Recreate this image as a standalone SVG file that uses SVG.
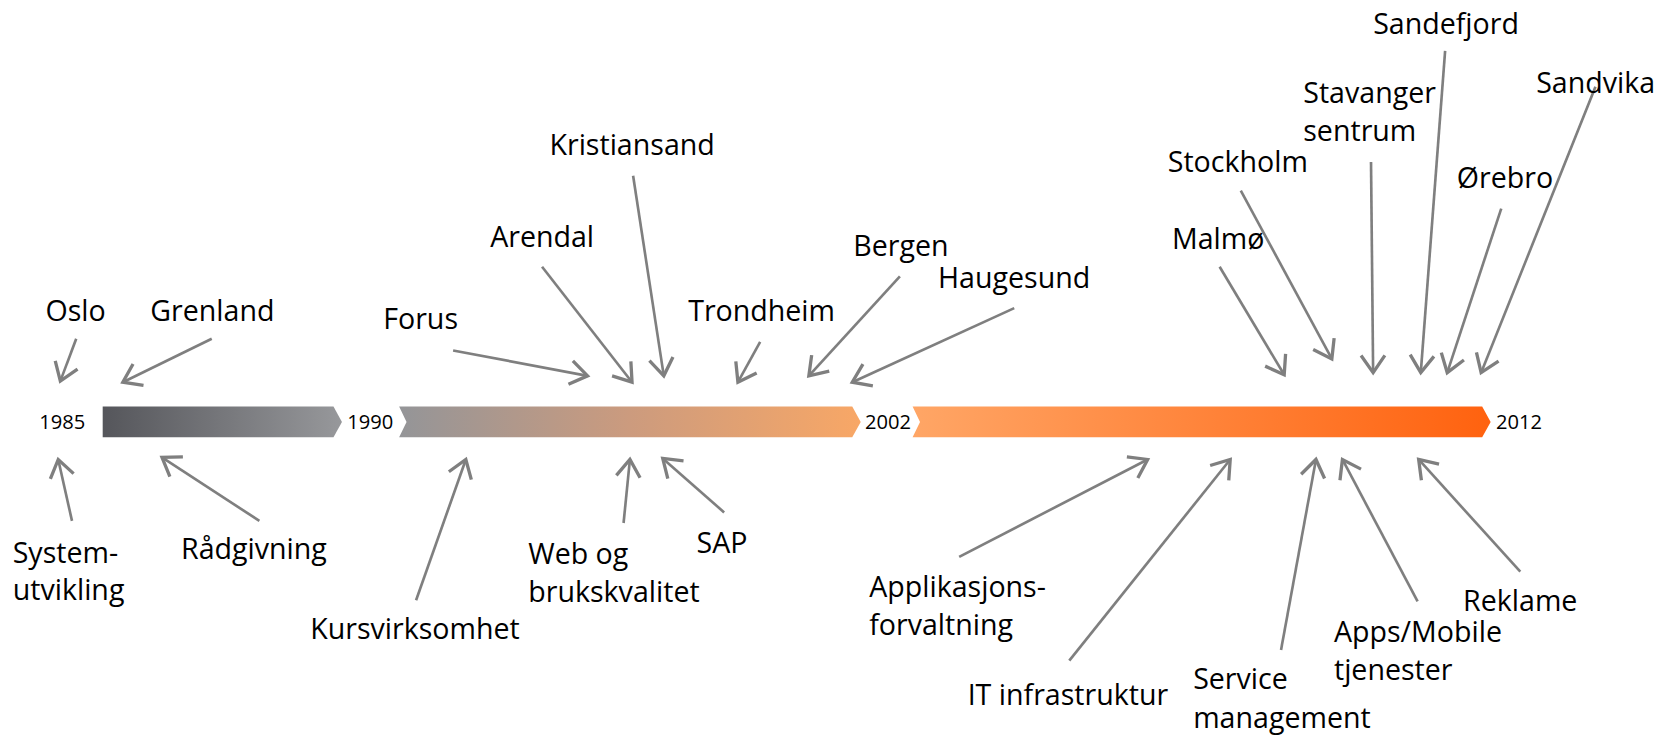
<svg xmlns="http://www.w3.org/2000/svg" width="1660" height="735" viewBox="0 0 1660 735">
<style>
.lbl{font-family:"Open Sans","Noto Sans",sans-serif;font-size:27px;fill:#000}
.yr{font-family:"Open Sans","Noto Sans",sans-serif;font-size:19px;fill:#000}
.con line{stroke:#7f7f7f;stroke-width:2.5;marker-end:url(#ah)}
</style>
<defs>
<marker id="ah" markerUnits="userSpaceOnUse" markerWidth="30" markerHeight="30" refX="0" refY="0" viewBox="-16 -12 20 24" orient="auto" overflow="visible">
<path d="M-13,-9 L0,0 L-13,9" fill="none" stroke="#7f7f7f" stroke-width="2.5"/>
</marker>
<linearGradient id="g1" x1="0" x2="1" y1="0" y2="0"><stop offset="0" stop-color="#55565b"/><stop offset="1" stop-color="#97989b"/></linearGradient>
<linearGradient id="g2" x1="0" x2="1" y1="0" y2="0"><stop offset="0" stop-color="#949598"/><stop offset="0.5" stop-color="#cc9b7e"/><stop offset="1" stop-color="#f8a766"/></linearGradient>
<linearGradient id="g3" x1="0" x2="1" y1="0" y2="0"><stop offset="0" stop-color="#ffa666"/><stop offset="1" stop-color="#ff620f"/></linearGradient>
</defs>
<g transform="scale(1.0587)">
<g id="timeline">
<path d="M97,384 L315,384 L323,398.5 L315,413 L97,413 Z" fill="url(#g1)"/>
<path d="M377,384 L805,384 L813,398.5 L805,413 L377,413 L384,398.5 Z" fill="url(#g2)"/>
<path d="M862,384 L1400,384 L1408,398.5 L1400,413 L862,413 L869,398.5 Z" fill="url(#g3)"/>
<text class="yr" x="37" y="405">1985</text>
<text class="yr" x="328" y="405">1990</text>
<text class="yr" x="817" y="405">2002</text>
<text class="yr" x="1413" y="405">2012</text>
</g>
<g id="connectors" class="con">
<line x1="72" y1="320" x2="57" y2="360"/>
<line x1="200" y1="320" x2="116" y2="361"/>
<line x1="428" y1="331" x2="555" y2="355"/>
<line x1="512" y1="252" x2="597" y2="361"/>
<line x1="598" y1="166" x2="627" y2="355"/>
<line x1="718" y1="323" x2="697" y2="361"/>
<line x1="850" y1="261" x2="764" y2="355"/>
<line x1="958" y1="291" x2="805" y2="361"/>
<line x1="1152" y1="252" x2="1213" y2="354"/>
<line x1="1172" y1="180" x2="1258" y2="339"/>
<line x1="1295" y1="153" x2="1297" y2="352"/>
<line x1="1365" y1="48" x2="1342" y2="352"/>
<line x1="1418" y1="197" x2="1367" y2="352"/>
<line x1="1507" y1="82" x2="1399" y2="352"/>
<line x1="68" y1="492" x2="55" y2="434"/>
<line x1="245" y1="492" x2="153" y2="432"/>
<line x1="393" y1="567" x2="440" y2="434"/>
<line x1="589" y1="494" x2="595" y2="434"/>
<line x1="684" y1="484" x2="626" y2="433"/>
<line x1="906" y1="526" x2="1084" y2="434"/>
<line x1="1010" y1="624" x2="1162" y2="434"/>
<line x1="1210" y1="614" x2="1243" y2="434"/>
<line x1="1339" y1="568" x2="1268" y2="434"/>
<line x1="1436" y1="540" x2="1340" y2="434"/>
</g>
<g id="n-oslo"><text class="lbl" x="43" y="303">Oslo</text></g>
<g id="n-grenland"><text class="lbl" x="142" y="303">Grenland</text></g>
<g id="n-forus"><text class="lbl" x="362" y="311">Forus</text></g>
<g id="n-arendal"><text class="lbl" x="463" y="233">Arendal</text></g>
<g id="n-kristiansand"><text class="lbl" x="519" y="146">Kristiansand</text></g>
<g id="n-trondheim"><text class="lbl" x="650" y="303">Trondheim</text></g>
<g id="n-bergen"><text class="lbl" x="806" y="242">Bergen</text></g>
<g id="n-haugesund"><text class="lbl" x="886" y="272">Haugesund</text></g>
<g id="n-malmo"><text class="lbl" x="1107" y="235">Malmø</text></g>
<g id="n-stockholm"><text class="lbl" x="1103" y="162">Stockholm</text></g>
<g id="n-stavanger"><text class="lbl" x="1231" y="97">Stavanger</text><text class="lbl" x="1231" y="133">sentrum</text></g>
<g id="n-sandefjord"><text class="lbl" x="1297" y="32">Sandefjord</text></g>
<g id="n-orebro"><text class="lbl" x="1376" y="178">Ørebro</text></g>
<g id="n-sandvika"><text class="lbl" x="1451" y="88">Sandvika</text></g>
<g id="n-system"><text class="lbl" x="12" y="532">System-</text><text class="lbl" x="12" y="567">utvikling</text></g>
<g id="n-radgivning"><text class="lbl" x="171" y="528">Rådgivning</text></g>
<g id="n-kurs"><text class="lbl" x="293" y="604">Kursvirksomhet</text></g>
<g id="n-web"><text class="lbl" x="499" y="533">Web og</text><text class="lbl" x="499" y="569">brukskvalitet</text></g>
<g id="n-sap"><text class="lbl" x="658" y="522">SAP</text></g>
<g id="n-appforv"><text class="lbl" x="821" y="564">Applikasjons-</text><text class="lbl" x="821" y="600">forvaltning</text></g>
<g id="n-it"><text class="lbl" x="914" y="666">IT infrastruktur</text></g>
<g id="n-service"><text class="lbl" x="1127" y="651">Service</text><text class="lbl" x="1127" y="688">management</text></g>
<g id="n-apps"><text class="lbl" x="1260" y="606">Apps/Mobile</text><text class="lbl" x="1260" y="642">tjenester</text></g>
<g id="n-reklame"><text class="lbl" x="1382" y="577">Reklame</text></g>
</g>
</svg>
